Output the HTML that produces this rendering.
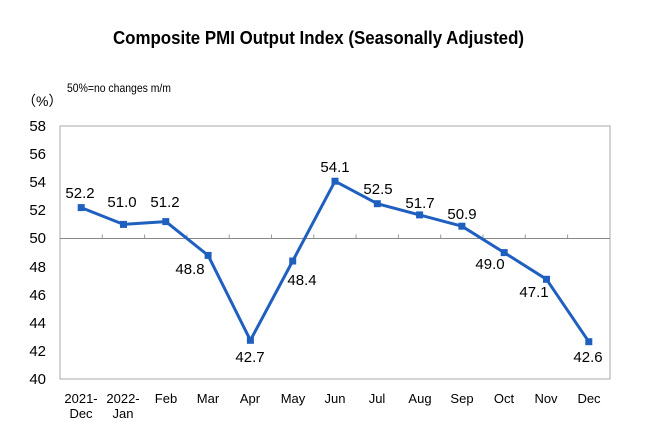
<!DOCTYPE html><html><head><style>body{margin:0;background:#fff}</style></head><body>
<svg width="660" height="440" xmlns="http://www.w3.org/2000/svg" font-family="Liberation Sans, sans-serif">
<text x="113" y="44" font-size="18" font-weight="bold" textLength="411" lengthAdjust="spacingAndGlyphs">Composite PMI Output Index (Seasonally Adjusted)</text>
<text x="67" y="92" font-size="12" textLength="104" lengthAdjust="spacingAndGlyphs">50%=no changes m/m</text>
<text x="22" y="106" font-size="14" font-family="Liberation Sans, Noto Sans CJK SC, sans-serif">（%）</text>
<rect x="60" y="126" width="550" height="253" fill="none" stroke="#aaa"/>
<line x1="60" y1="238.5" x2="610" y2="238.5" stroke="#888"/>
<g stroke="#999"><path d="M102.3 238.5v-4M144.6 238.5v-4M186.9 238.5v-4M229.2 238.5v-4M271.5 238.5v-4M313.8 238.5v-4M356.1 238.5v-4M398.4 238.5v-4M440.7 238.5v-4M483 238.5v-4M525.3 238.5v-4M567.6 238.5v-4"/></g>
<g font-size="15" text-anchor="end">
<text x="46" y="131">58</text><text x="46" y="159">56</text><text x="46" y="187">54</text><text x="46" y="215">52</text><text x="46" y="243">50</text><text x="46" y="272">48</text><text x="46" y="300">46</text><text x="46" y="328">44</text><text x="46" y="356">42</text><text x="46" y="384">40</text>
</g>
<g font-size="13" text-anchor="middle">
<text x="81" y="403">2021-</text><text x="81" y="418">Dec</text>
<text x="123" y="403">2022-</text><text x="123" y="418">Jan</text>
<text x="166" y="403">Feb</text><text x="208" y="403">Mar</text><text x="250" y="403">Apr</text><text x="293" y="403">May</text><text x="335" y="403">Jun</text><text x="377" y="403">Jul</text><text x="420" y="403">Aug</text><text x="462" y="403">Sep</text><text x="504" y="403">Oct</text><text x="546" y="403">Nov</text><text x="589" y="403">Dec</text>
</g>
<polyline fill="none" stroke="#1f5fbf" stroke-width="3" stroke-linejoin="round" points="81.2,207.6 123.5,224.4 165.8,221.6 208.1,255.4 250.4,340.3 292.7,261.0 335,181.2 377.3,203.7 419.6,214.9 461.9,226.2 504.2,252.6 546.5,279.3 588.8,341.7"/>
<g fill="#1f5fbf">
<rect x="77.7" y="204.1" width="7" height="7"/><rect x="120" y="220.9" width="7" height="7"/><rect x="162.3" y="218.1" width="7" height="7"/><rect x="204.6" y="251.9" width="7" height="7"/><rect x="246.9" y="336.8" width="7" height="7"/><rect x="289.2" y="257.5" width="7" height="7"/><rect x="331.5" y="177.7" width="7" height="7"/><rect x="373.8" y="200.2" width="7" height="7"/><rect x="416.1" y="211.4" width="7" height="7"/><rect x="458.4" y="222.7" width="7" height="7"/><rect x="500.7" y="249.1" width="7" height="7"/><rect x="543" y="275.8" width="7" height="7"/><rect x="585.3" y="338.2" width="7" height="7"/>
</g>
<g font-size="15" text-anchor="middle">
<text x="80" y="198">52.2</text><text x="122" y="207">51.0</text><text x="165" y="207">51.2</text><text x="190" y="274">48.8</text><text x="250" y="362">42.7</text><text x="302" y="285">48.4</text><text x="335" y="172">54.1</text><text x="378" y="194">52.5</text><text x="420" y="208">51.7</text><text x="462" y="219">50.9</text><text x="490" y="269">49.0</text><text x="534" y="297">47.1</text><text x="588" y="362">42.6</text>
</g>
</svg></body></html>
